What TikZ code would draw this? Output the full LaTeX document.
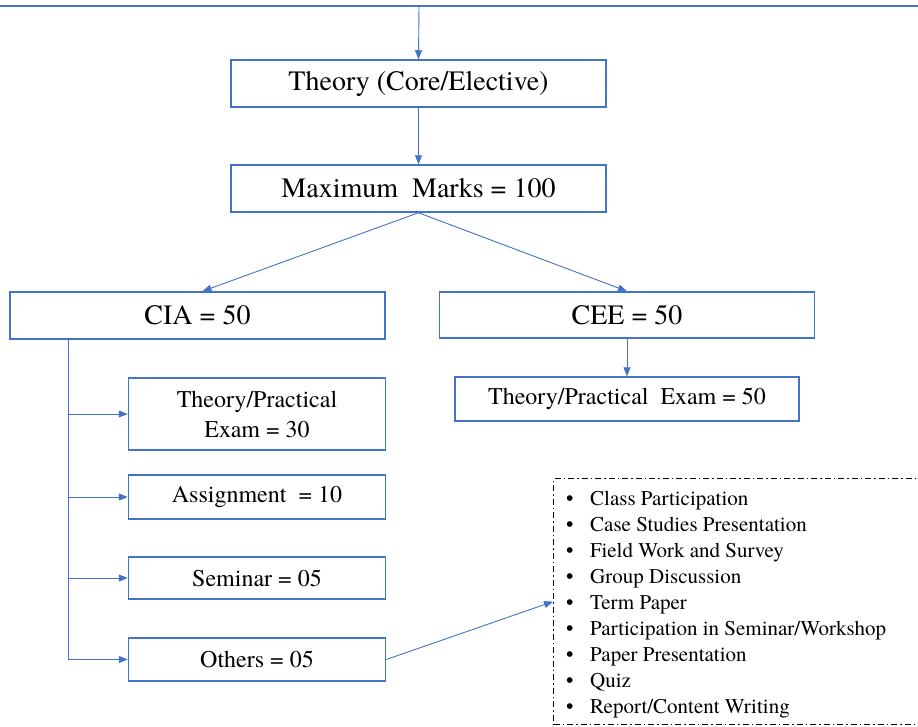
\documentclass[tikz,border=0pt]{standalone}
\usepackage{fontspec}
\setmainfont{TeX Gyre Termes}
\newfontfamily\tnr{TeX Gyre Termes}
\usetikzlibrary{arrows.meta,calc}
\definecolor{ublue}{HTML}{4472C4}
\tikzset{
  box/.style={draw=ublue, line width=1.5pt, rectangle, inner sep=2pt, align=center, text=black},
  bigbox/.style={box, minimum width=375pt, minimum height=47pt, font=\tnr\fontsize{28}{33}\selectfont},
  midbox/.style={box, font=\tnr\fontsize{24}{30}\selectfont},
  conn/.style={draw=ublue, line width=0.9pt, -{Triangle[length=9pt,width=7pt]}},
  plain/.style={draw=ublue, line width=0.9pt},
  listbox/.style={draw=black, line width=1.2pt, dash pattern=on 6pt off 3pt on 1.5pt off 3pt, rectangle, minimum width=380pt, minimum height=246pt}
}
\begin{document}
\begin{tikzpicture}[x=1pt,y=-1pt]
\useasboundingbox (0,0) rectangle (918,726);
% top line
\draw[draw=ublue, line width=2pt] (0,6) -- (918,6);
\coordinate (top) at (419,6);
% main boxes
\node[bigbox] (theory) at (418.5,83.5) {Theory (Core/Elective)};
\node[bigbox] (maxm) at (418.5,188.5) {Maximum\ \ Marks = 100};
\node[bigbox] (cia) at (197.5,315.5) {CIA = 50};
\node[bigbox, minimum height=46pt] (cee) at (627,315) {CEE = 50};
\node[midbox, minimum width=344pt, minimum height=44pt] (tp50) at (627,399) {Theory/Practical\ \ Exam = 50};
\node[midbox, minimum width=257pt, minimum height=72pt] (tp30) at (257,414) {Theory/Practical\\Exam = 30};
\node[midbox, minimum width=257pt, minimum height=44pt] (assign) at (257,497) {Assignment\ \ = 10};
\node[midbox, minimum width=257pt, minimum height=42pt] (sem) at (257,578) {Seminar = 05};
\node[midbox, minimum width=257pt, minimum height=43pt] (oth) at (257,659.5) {Others = 05};
% list box
\node[listbox, anchor=north west] (lst) at (553,478) {};
\node[anchor=west, align=left, font=\tnr\fontsize{21}{26}\selectfont, inner sep=0pt] (items) at (566,605) {%
\makebox[24pt][l]{•}Class Participation\\
\makebox[24pt][l]{•}Case Studies Presentation\\
\makebox[24pt][l]{•}Field Work and Survey\\
\makebox[24pt][l]{•}Group Discussion\\
\makebox[24pt][l]{•}Term\ Paper\\
\makebox[24pt][l]{•}Participation\ in Seminar/Workshop\\
\makebox[24pt][l]{•}Paper Presentation\\
\makebox[24pt][l]{•}Quiz\\
\makebox[24pt][l]{•}Report/Content Writing};
% connectors
\draw[conn] (top) -- (theory.north);
\draw[conn] (theory.south) -- (maxm.north);
\draw[conn] (maxm.south) -- ($(cia.north)+(5,0)$);
\draw[conn] (maxm.south) -- (cee.north);
\draw[conn] (cee.south) -- (tp50.north);
\coordinate (s0) at ($(cia.south west)+(59,0)$);
\draw[plain] (s0) -- (s0 |- oth.west);
\draw[conn] (s0 |- tp30.west) -- (tp30.west);
\draw[conn] (s0 |- assign.west) -- (assign.west);
\draw[conn] (s0 |- sem.west) -- (sem.west);
\draw[conn] (s0 |- oth.west) -- (oth.west);
\draw[conn] (oth.east) -- (lst.west);
\end{tikzpicture}
\end{document}
